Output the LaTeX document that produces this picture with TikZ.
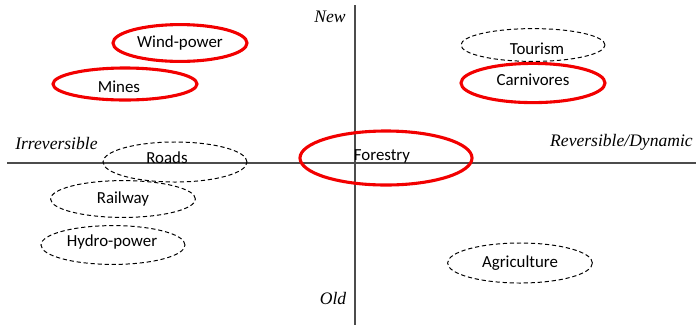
\documentclass[tikz,border=0pt]{standalone}
\usepackage{fontspec}
\setmainfont{Carlito}
\newfontfamily\axisfont{Liberation Serif}
\usetikzlibrary{shapes.geometric}

\tikzset{
  redoval/.style={draw=red!95!black, line width=2.2pt, ellipse, inner sep=0pt, font=\fontsize{12}{14}\selectfont},
  dashoval/.style={draw=black, densely dashed, line width=0.7pt, ellipse, inner sep=0pt, font=\fontsize{12}{14}\selectfont},
  axislabel/.style={font=\axisfont\itshape\fontsize{12.5}{14}\selectfont, inner sep=0pt}
}

\begin{document}
\begin{tikzpicture}[x=0.025cm, y=-0.025cm]
  \useasboundingbox (0,0) rectangle (696,325);
  % Axes
  \coordinate (left) at (7,163);
  \coordinate (right) at (696,163);
  \coordinate (top) at (355,5);
  \coordinate (bottom) at (355,325);
  \draw[black!70, line width=0.9pt] (left) -- (right);
  \draw[black!70, line width=0.9pt] (top) -- (bottom);
  % Axis labels
  \node[axislabel] (new) at (330,17) {New};
  \node[axislabel] (old) at (333,298) {Old};
  \node[axislabel, anchor=west] (irrev) at (15,143) {Irreversible};
  \node[axislabel, anchor=east] (rev) at (693,142) {Reversible/Dynamic};
  % Red ellipses
  \node[redoval, minimum width=3.35cm, minimum height=0.92cm] (wind) at (180,43) {Wind-power};
  \node[redoval, minimum width=3.6cm, minimum height=0.8cm] (mines) at (125,84) {};
  \node[font=\fontsize{12}{14}\selectfont] (mineslbl) at (119,87) {Mines};
  \node[redoval, minimum width=3.6cm, minimum height=0.98cm] (carni) at (533,83) {};
  \node[font=\fontsize{12}{14}\selectfont] (carnilbl) at (533,80) {Carnivores};
  \node[redoval, minimum width=4.3cm, minimum height=1.35cm] (forest) at (386,158) {};
  \node[font=\fontsize{12}{14}\selectfont] (forestlbl) at (382,156) {Forestry};
  % Dashed ellipses
  \node[dashoval, minimum width=3.6cm, minimum height=0.82cm] (tour) at (533,45) {};
  \node[font=\fontsize{12}{14}\selectfont] (tourlbl) at (537,49) {Tourism};
  \node[dashoval, minimum width=3.6cm, minimum height=1cm] (roads) at (175,162) {};
  \node[font=\fontsize{12}{14}\selectfont] (roadslbl) at (167,158) {Roads};
  \node[dashoval, minimum width=3.62cm, minimum height=0.92cm] (rail) at (123,199) {Railway};
  \node[dashoval, minimum width=3.6cm, minimum height=0.97cm] (hydro) at (113,245) {};
  \node[font=\fontsize{12}{14}\selectfont] (hydrolbl) at (112,242) {Hydro-power};
  \node[dashoval, minimum width=3.62cm, minimum height=1cm] (agri) at (520,263) {Agriculture};
\end{tikzpicture}
\end{document}
